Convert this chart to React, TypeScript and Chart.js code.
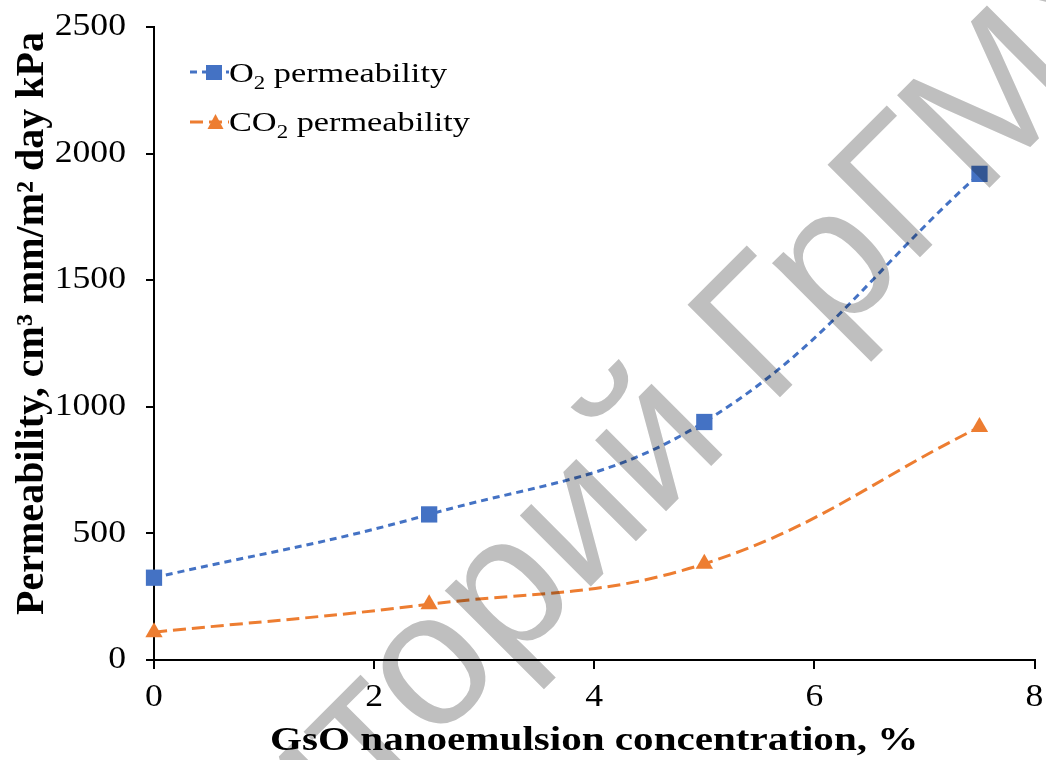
import React, { useEffect, useRef } from "react";
import { Chart, registerables } from "chart.js";

Chart.register(...registerables);

// ---- data ----
const concentrations = [0, 2.5, 5, 7.5];
const o2Permeability = [325, 575, 940, 1920];
const co2Permeability = [110, 220, 380, 920];
const xTickValues = [0, 2, 4, 6, 8];
const yTickValues = [0, 500, 1000, 1500, 2000, 2500];
const xTitle = "GsO nanoemulsion concentration, %";
const yTitle = "Permeability, cm³ mm/m² day kPa";
const legendBase = ["O", "CO"];
const legendSub = ["2", "2"];
const legendRest = [" permeability", " permeability"];
const watermarkText = "Репозиторий ГрГМУ";
const watermarkPrefix = "Репозиторий ";

const BLUE = "#4472C4";
const ORANGE = "#ED7D31";
const SERIF = '"Liberation Serif", "Times New Roman", serif';
const WM_FONT = '"Liberation Sans", Arial, sans-serif';

function drawStretched(
  ctx: CanvasRenderingContext2D,
  text: string,
  x: number,
  y: number,
  align: CanvasTextAlign,
  baseline: CanvasTextBaseline,
  stretch: number
) {
  ctx.save();
  ctx.translate(x, y);
  ctx.scale(stretch, 1);
  ctx.textAlign = align;
  ctx.textBaseline = baseline;
  ctx.fillText(text, 0, 0);
  ctx.restore();
}

const textPlugin = {
  id: "customText",
  afterDraw(chart: any) {
    const ctx: CanvasRenderingContext2D = chart.ctx;
    const xs = chart.scales.x;
    const ys = chart.scales.y;
    const area = chart.chartArea;

    ctx.save();
    ctx.fillStyle = "#000";
    // tick labels
    ctx.font = `31px ${SERIF}`;
    ys.ticks.forEach((t: any) => {
      drawStretched(ctx, String(t.value), 126, ys.getPixelForValue(t.value), "right", "middle", 1.15);
    });
    xs.ticks.forEach((t: any) => {
      drawStretched(ctx, String(t.value), xs.getPixelForValue(t.value), 698, "center", "middle", 1.15);
    });

    // axis titles
    ctx.font = `bold 33px ${SERIF}`;
    drawStretched(ctx, xTitle, (area.left + area.right) / 2, 750, "center", "alphabetic", 1.245);

    ctx.save();
    ctx.font = `bold 40px ${SERIF}`;
    ctx.translate(43, 323.5);
    ctx.rotate(-Math.PI / 2);
    ctx.textAlign = "center";
    ctx.textBaseline = "alphabetic";
    ctx.fillText(yTitle, 0, 0);
    ctx.restore();

    // legend
    const rows = [
      { cy: 72, base: 82, color: BLUE, dash: [7, 5], marker: "rect" },
      { cy: 122, base: 131, color: ORANGE, dash: [13, 6], marker: "tri" },
    ];
    rows.forEach((r, i) => {
      ctx.save();
      ctx.strokeStyle = r.color;
      ctx.lineWidth = 3;
      ctx.setLineDash(r.dash);
      ctx.beginPath();
      ctx.moveTo(190, r.cy);
      ctx.lineTo(229, r.cy);
      ctx.stroke();
      ctx.setLineDash([]);
      ctx.fillStyle = r.color;
      if (r.marker === "rect") {
        ctx.fillRect(206, r.cy - 7, 16, 15);
      } else {
        ctx.beginPath();
        ctx.moveTo(215.5, r.cy - 8);
        ctx.lineTo(223.5, r.cy + 7);
        ctx.lineTo(207.5, r.cy + 7);
        ctx.closePath();
        ctx.fill();
      }
      ctx.restore();

      ctx.save();
      ctx.fillStyle = "#000";
      ctx.translate(229, r.base);
      ctx.scale(1.27, 1);
      ctx.textAlign = "left";
      ctx.textBaseline = "alphabetic";
      ctx.font = `27px ${SERIF}`;
      ctx.fillText(legendBase[i], 0, 0);
      let adv = ctx.measureText(legendBase[i]).width;
      ctx.font = `18px ${SERIF}`;
      ctx.fillText(legendSub[i], adv, 7);
      adv += ctx.measureText(legendSub[i]).width;
      ctx.font = `27px ${SERIF}`;
      ctx.fillText(legendRest[i], adv, 0);
      ctx.restore();
    });

    // watermark: sized so that "Гр" advance spans ~198px, anchored at the first "Г" corner
    ctx.save();
    ctx.globalCompositeOperation = "multiply";
    ctx.fillStyle = "#bfbfbf";
    ctx.font = `100px ${WM_FONT}`;
    let size = (100 * 198) / (ctx.measureText("Гр").width || 116.7);
    if (!isFinite(size) || size < 120 || size > 260) size = 170;
    ctx.font = `${Math.round(size)}px ${WM_FONT}`;
    const w = ctx.measureText(watermarkPrefix).width;
    const gm = ctx.measureText("Г");
    let lsb = -(gm.actualBoundingBoxLeft || 0);
    if (!isFinite(lsb) || Math.abs(lsb) > 40) lsb = 12;
    let asc = gm.actualBoundingBoxAscent || 0.716 * size;
    if (!isFinite(asc) || asc < 80 || asc > 200) asc = 0.716 * size;
    const u = w + lsb;
    const v = -asc;
    const c = Math.SQRT1_2;
    const ox = 687 - (u * c + v * c);
    const oy = 305 - (-u * c + v * c);
    ctx.translate(ox, oy);
    ctx.rotate(-Math.PI / 4);
    ctx.textAlign = "left";
    ctx.textBaseline = "alphabetic";
    ctx.fillText(watermarkText, 0, 0);
    ctx.restore();

    ctx.restore();
  },
};

export default function App() {
  const ref = useRef<HTMLCanvasElement | null>(null);

  useEffect(() => {
    document.body.style.margin = "0";
    const canvas = ref.current;
    if (!canvas) return;
    const chart = new Chart(canvas, {
      type: "line",
      data: {
        datasets: [
          {
            label: "O2 permeability",
            data: concentrations.map((x, i) => ({ x, y: o2Permeability[i] })),
            borderColor: BLUE,
            backgroundColor: BLUE,
            borderWidth: 3,
            borderDash: [7, 5],
            pointStyle: "rect",
            pointRadius: 11.5,
            pointBorderWidth: 0,
            pointBackgroundColor: BLUE,
            tension: 0.4,
            fill: false,
            clip: false,
          },
          {
            label: "CO2 permeability",
            data: concentrations.map((x, i) => ({ x, y: co2Permeability[i] })),
            borderColor: ORANGE,
            backgroundColor: ORANGE,
            borderWidth: 3,
            borderDash: [13, 6],
            pointStyle: "triangle",
            pointRadius: 10,
            pointBorderWidth: 0,
            pointBackgroundColor: ORANGE,
            tension: 0.4,
            fill: false,
            clip: false,
          },
        ],
      } as any,
      options: {
        responsive: false,
        animation: false,
        devicePixelRatio: 1,
        layout: { padding: { left: 0, right: 6, top: 27, bottom: 0 } },
        plugins: {
          legend: { display: false },
          tooltip: { enabled: false },
          title: { display: false },
        },
        scales: {
          x: {
            type: "linear",
            min: 0,
            max: 8,
            afterBuildTicks: (s: any) => {
              s.ticks = xTickValues.map((v) => ({ value: v }));
            },
            ticks: { display: false },
            grid: { drawOnChartArea: false, drawTicks: true, tickLength: 9, color: "#000", lineWidth: 2 },
            border: { display: true, color: "#000", width: 2 },
            afterFit: (s: any) => {
              s.height = 100;
              s.paddingLeft = 0;
              s.paddingRight = 0;
            },
          },
          y: {
            type: "linear",
            min: 0,
            max: 2500,
            afterBuildTicks: (s: any) => {
              s.ticks = yTickValues.map((v) => ({ value: v }));
            },
            ticks: { display: false },
            grid: { drawOnChartArea: false, drawTicks: true, tickLength: 8, color: "#000", lineWidth: 2 },
            border: { display: true, color: "#000", width: 2 },
            afterFit: (s: any) => {
              s.width = 154;
              s.paddingTop = 0;
              s.paddingBottom = 0;
            },
          },
        },
      } as any,
      plugins: [textPlugin],
    });
    return () => chart.destroy();
  }, []);

  return (
    <div style={{ position: "absolute", left: 0, top: 0, width: 1046, height: 760, background: "#fff" }}>
      <canvas ref={ref} width={1046} height={760} style={{ display: "block" }} />
    </div>
  );
}
